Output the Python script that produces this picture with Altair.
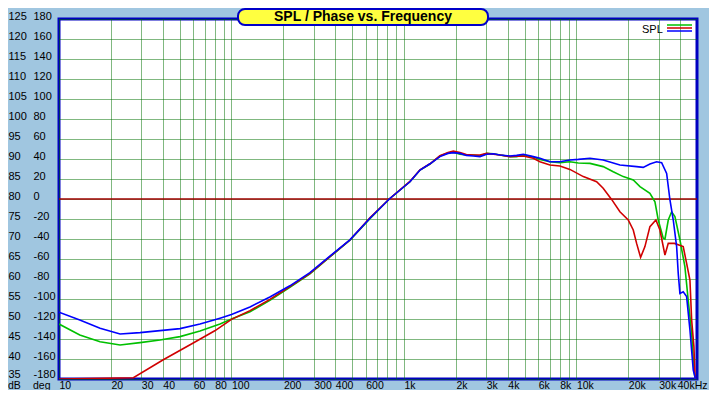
import altair as alt
import pandas as pd

# ---------------- data ----------------
blue_f = [10, 13.2, 17.3, 22.6, 29.5, 38.5, 50.3, 65.7, 85.8,
          100, 128, 167, 218, 285, 372, 486, 635, 822,
          1083, 1239, 1416, 1617, 1800, 1932, 2112, 2300, 2523, 2758,
          3015, 3300, 3603, 4115, 4500, 4919, 5622, 6143, 7020, 8020,
          9163, 10250, 11980, 14290, 17870, 22330, 24390, 26670, 29170, 31190,
          33340, 34850, 36420, 38100, 38920, 39810, 41600, 43530, 45500, 47560,
          49000]
blue_v = [51.7, 49.75, 47.7, 46.25, 46.6, 47.1, 47.6, 48.75, 50.2,
          51.1, 53.0, 55.5, 58.3, 61.6, 65.7, 69.8, 75.2, 80.0,
          84.3, 87.25, 88.8, 90.6, 91.4, 91.6, 91.4, 90.9, 90.75, 90.6,
          91.2, 91.3, 91.0, 90.75, 90.9, 91.2, 90.6, 90.2, 89.3, 89.3,
          89.75, 89.9, 90.2, 89.75, 88.5, 88.1, 87.9, 88.75, 89.3, 89.1,
          86.4, 79.75, 74.75, 68.1, 61.4, 56.4, 56.8, 55.6, 47.25, 37.25,
          35]

green_f = [10, 13.2, 17.3, 22.6, 29.5, 38.5, 50.3, 65.7, 85.8,
           100, 128, 167, 218, 285, 372, 486, 635, 822,
           1083, 1239, 1416, 1617, 1800, 1932, 2112, 2300, 2523, 2758,
           3015, 3300, 3603, 4115, 4500, 4919, 5622, 6143, 7020, 8020,
           9163, 10250, 11980, 14290, 16340, 18680, 21350, 23350, 26670, 28520,
           29800, 31860, 32600, 34070, 35630, 37240, 39810, 42540, 44460, 46550,
           47980, 48800]
green_v = [48.75, 46, 44.3, 43.5, 44.1, 44.75, 45.6, 47, 48.75,
           50.0, 51.8, 54.7, 57.9, 61.3, 65.5, 69.7, 75.1, 80,
           84.3, 87.25, 88.75, 90.75, 91.5, 91.7, 91.2, 91.0, 91.0, 90.75,
           91.4, 91.3, 91, 90.6, 90.6, 91, 90.5, 89.9, 89.3, 89.1,
           89.3, 89.0, 88.9, 88.1, 86.8, 85.6, 84.75, 83.1, 81.4, 79.3,
           74.75, 70.2, 70.0, 74.75, 76.8, 75.6, 69.75, 63.1, 54.75, 46.4,
           37.25, 35]

red_f = [10, 27, 40, 60, 80,
         100, 128, 167, 218, 285, 372, 486, 635, 822,
         1083, 1239, 1416, 1617, 1800, 1932, 2112, 2300, 2523, 2758,
         3015, 3300, 3603, 4115, 4500, 4919, 5622, 6143, 7020, 8020,
         9163, 10960, 13090, 14290, 15990, 17870, 19970, 21350, 22330, 23550,
         24950, 26670, 28890, 30480, 32590, 34070, 37000, 41600, 43530, 45500,
         46550, 47980, 48600, 49000]
red_v = [35, 35.3, 39.75, 44, 47.05,
         49.9, 52.1, 54.9, 58.1, 61.4, 65.6, 69.75, 75.3, 80.0,
         84.4, 87.3, 88.8, 90.8, 91.6, 92.0, 91.6, 91.1, 91, 91,
         91.4, 91.2, 91, 90.6, 90.7, 90.75, 90.2, 89.3, 88.5, 88.25,
         87.4, 85.6, 84.3, 82.7, 79.9, 76.8, 74.75, 72.25, 68.9, 65.4,
         68.1, 73.1, 74.75, 72.25, 66, 68.9, 68.9, 68.1, 63.9, 59.75,
         49.75, 43.1, 36.5, 35]

series_names = ["green", "red", "blue"]
series_colors = ["#00C000", "#D00000", "#0000FF"]

x_grid = [10, 20, 30, 40, 50, 60, 70, 80, 90,
          100, 200, 300, 400, 500, 600, 700, 800, 900,
          1000, 2000, 3000, 4000, 5000, 6000, 7000, 8000, 9000,
          10000, 20000, 30000, 40000]
x_label_values = [10, 20, 30, 40, 60, 80, 100, 200, 300, 400, 600,
                  1000, 2000, 3000, 4000, 6000, 8000, 10000, 20000, 30000, 40000]
x_label_texts = ["10", "20", "30", "40", "60", "80", "100", "200", "300", "400", "600",
                 "1k", "2k", "3k", "4k", "6k", "8k", "10k", "20k", "30k", "40kHz"]
db_ticks = list(range(35, 130, 5))
zero_db = [80]

title_text = "SPL / Phase vs. Frequency"
legend_text = "SPL"

# ---------------- build ----------------
rows = []
for name, fs, vs in [("green", green_f, green_v), ("red", red_f, red_v), ("blue", blue_f, blue_v)]:
    for i, (f, v) in enumerate(zip(fs, vs)):
        rows.append({"series": name, "freq": f, "spl": v, "i": i})
df = pd.DataFrame(rows)

label_expr = " : ".join(
    f"datum.value == {v} ? '{t}'" for v, t in zip(x_label_values, x_label_texts)
) + " : ''"

W, H = 638, 360
FONT = "Liberation Sans"
GRID = "#007000"
FS = 10.5

xscale = alt.Scale(type="log", domain=[10, 50000], nice=False)
yscale = alt.Scale(domain=[35, 125], nice=False, zero=False)

y_label_offset = alt.condition("datum.value == 35", alt.value(-4.5), alt.value(-2.5))

x_axis = alt.Axis(values=x_grid, labelExpr=label_expr, labelAlign="left",
                  labelBaseline="top", labelPadding=1.5, tickSize=0, domain=False,
                  labelOffset=alt.condition("datum.value == 40000", alt.value(-3), alt.value(0)),
                  grid=True, gridColor=GRID, gridDash=[1, 1], gridWidth=1,
                  labelOverlap=False, labelFlush=False, title=None,
                  labelFont=FONT, labelFontSize=FS, labelColor="black")
db_axis = alt.Axis(values=db_ticks, orient="left", labelExpr="'' + datum.value",
                   labelAlign="left", labelBaseline="middle", labelPadding=51,
                   labelOffset=y_label_offset, tickSize=0, domain=False, grid=True,
                   gridColor=GRID, gridDash=[1, 1], gridWidth=1, title=None,
                   labelFont=FONT, labelFontSize=11, labelColor="black",
                   labelOverlap=False)
deg_axis = alt.Axis(values=db_ticks, orient="left",
                    labelExpr="'' + ((datum.value - 80) * 4)",
                    labelAlign="left", labelBaseline="middle", labelPadding=26,
                    labelOffset=y_label_offset, tickSize=0, domain=False, grid=False,
                    title=None, labelFont=FONT, labelFontSize=11, labelColor="black",
                    labelOverlap=False)

zero = alt.Chart(pd.DataFrame({"v": zero_db})).mark_rule(
    color="#A00000", strokeWidth=1.5
).encode(y=alt.Y("v:Q", scale=yscale, axis=deg_axis))

lines = alt.Chart(df).mark_line(clip=True, strokeWidth=1.6).encode(
    x=alt.X("freq:Q", scale=xscale, axis=x_axis),
    y=alt.Y("spl:Q", scale=yscale, axis=db_axis),
    color=alt.Color("series:N", scale=alt.Scale(domain=series_names, range=series_colors),
                    legend=None),
    order="i:Q",
)

unit_db = alt.Chart().mark_text(font=FONT, fontSize=FS, align="left", baseline="top",
                                color="black", text="dB").encode(
    x=alt.value(-51), y=alt.value(H + 2))
unit_deg = alt.Chart().mark_text(font=FONT, fontSize=FS, align="left", baseline="top",
                                 color="black", text="deg").encode(
    x=alt.value(-26), y=alt.value(H + 2))

leg_text = alt.Chart().mark_text(font=FONT, fontSize=11, align="left", baseline="middle",
                                 color="black", text=legend_text).encode(
    x=alt.value(583), y=alt.value(11))
leg_lines = [
    alt.Chart().mark_rule(color=c, strokeWidth=1.5).encode(
        x=alt.value(608), x2=alt.value(633), y=alt.value(6 + 3 * k))
    for k, c in enumerate(series_colors)
]

title_box = alt.Chart().mark_rect(fill="#FFFF40", stroke="#0000C8", strokeWidth=2,
                                  cornerRadius=7).encode(
    x=alt.value(179), x2=alt.value(429), y=alt.value(-10), y2=alt.value(6))
title_mark = alt.Chart().mark_text(font=FONT, fontSize=14, fontWeight="bold",
                                   align="center", baseline="middle", color="black",
                                   text=title_text).encode(
    x=alt.value(304), y=alt.value(-2))

chart = alt.layer(
    zero, lines, unit_db, unit_deg, leg_text, *leg_lines, title_box, title_mark
).resolve_axis(y="independent").properties(
    width=W, height=H,
    autosize=alt.AutoSizeParams(type="none"),
    padding={"left": 51, "top": 11, "right": 12, "bottom": 11},
    background="#A0C6E0",
).configure_view(
    fill="white", stroke="#0000C0", strokeWidth=3
)

chart.save("out.html", embed_options={"renderer": "svg", "actions": False})
